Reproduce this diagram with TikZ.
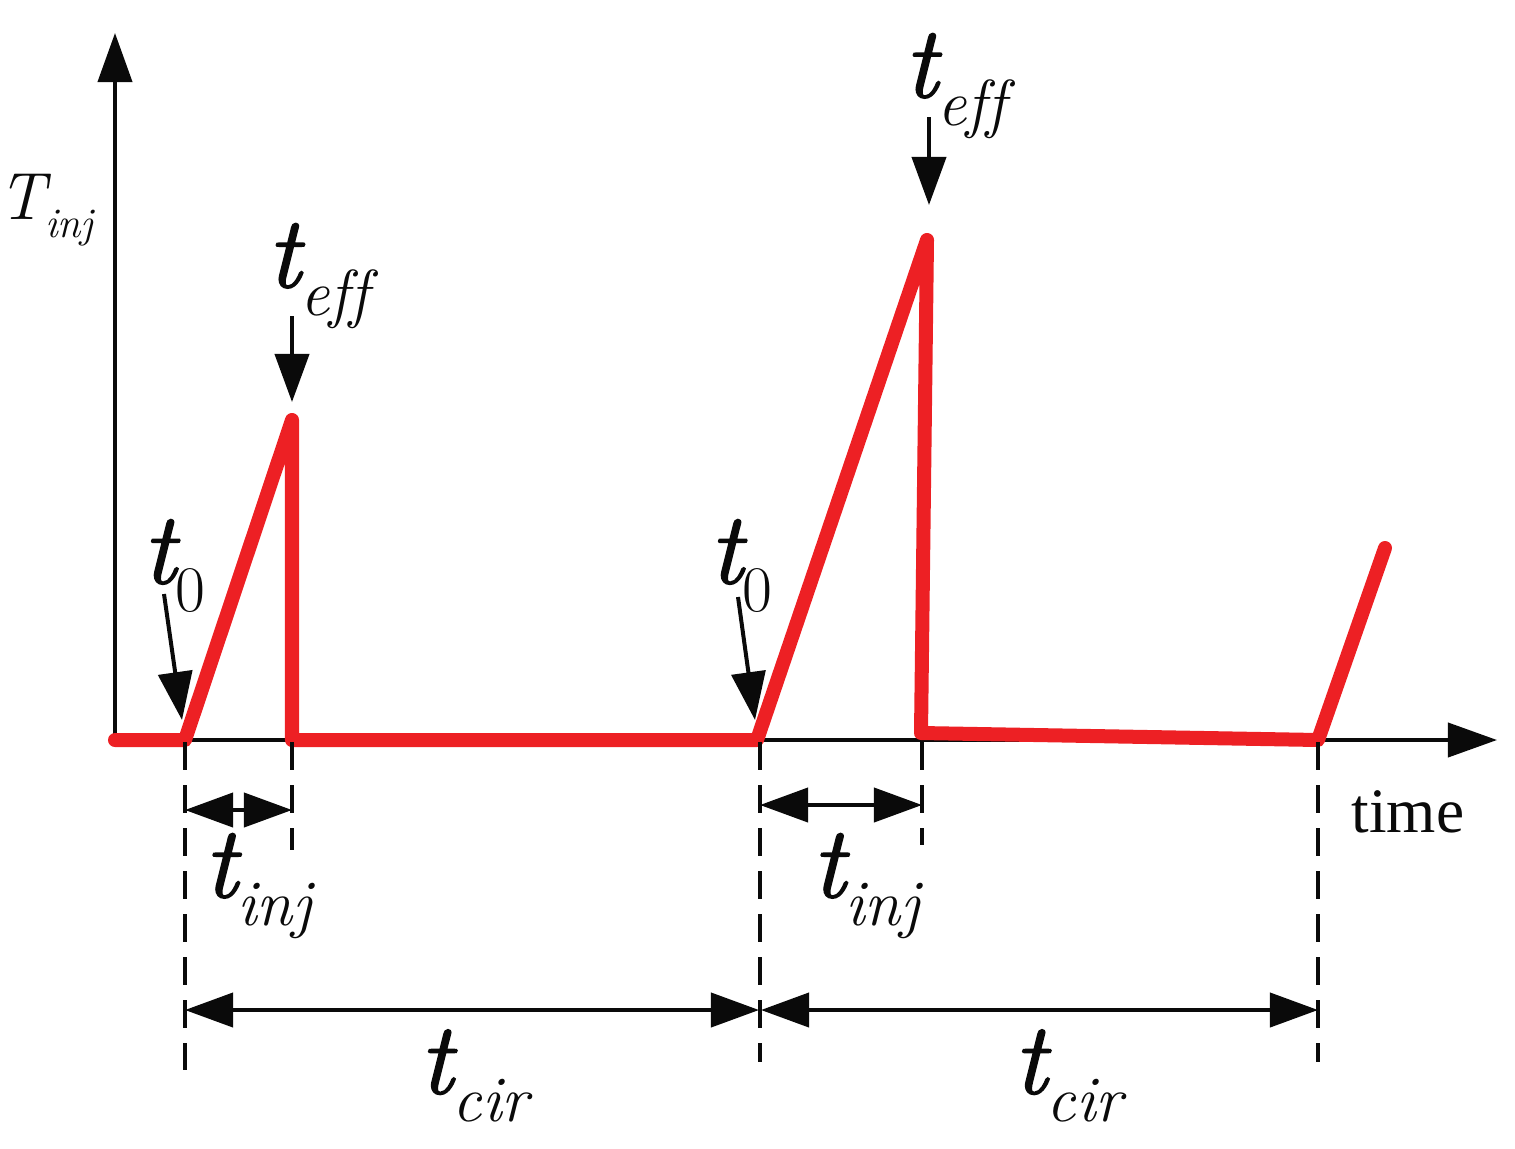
\documentclass[tikz,border=0pt]{standalone}
\usepackage{fontspec}
\setmainfont{Liberation Serif}
\newfontfamily\labfont{Latin Modern Roman}[Ligatures=NoCommon]
\newfontfamily\tfont{Latin Modern Roman}[ItalicFeatures={FakeBold=1.6}]
\usetikzlibrary{arrows.meta, positioning, calc}
\definecolor{cred}{HTML}{ED2024}
\definecolor{cblack}{HTML}{0A0A0A}
\newcommand{\tlab}[1]{{\tfont\fontsize{29}{29}\selectfont\itshape t}\raisebox{-8pt}{\labfont\fontsize{18.5}{18.5}\selectfont#1}}
\tikzset{
  every picture/.style={x=0.01cm, y=-0.01cm},
  axis/.style={draw=cblack, line width=0.04cm, -{Triangle[length=0.49cm, width=0.34cm]}},
  signal/.style={draw=cred, line width=0.14cm, line cap=round, line join=round},
  guide/.style={draw=cblack, line width=0.04cm, dash pattern=on 0.28cm off 0.15cm},
  dim/.style={draw=cblack, line width=0.04cm, {Triangle[length=0.48cm, width=0.34cm]}-{Triangle[length=0.48cm, width=0.34cm]}},
  pointer/.style={draw=cblack, line width=0.04cm, -{Triangle[length=0.48cm, width=0.34cm]}},
  lab/.style={inner sep=0pt, text=cblack},
}

\begin{document}
\begin{tikzpicture}
  \useasboundingbox (0,0) rectangle (1515,1148);
  % axes
  \coordinate (o) at (115,740);
  \coordinate (ytop) at (115,33);
  \coordinate (xend) at (1497,740);
  \draw[axis] (o) -- (ytop);
  \draw[axis] (o) -- (xend);
  \node[lab, font=\fontsize{18}{18}\selectfont] (time) at (1408,812) {time};
  \node[lab] (tinjax) at (46,210) {{\labfont\fontsize{19}{19}\selectfont\itshape T}\raisebox{-5pt}{\labfont\fontsize{12}{12}\selectfont\itshape inj}};
  % signal corners
  \coordinate (s0) at (185,740);
  \coordinate (p1) at (292,420);
  \coordinate (d1) at (292,740);
  \coordinate (s1) at (757,740);
  \coordinate (p2) at (927,240);
  \coordinate (d2) at (921,733);
  \coordinate (s2) at (1318,740);
  \coordinate (e2) at (1385,548);
  \draw[signal] (o) -- (s0) -- (p1) -- (d1) -- (s1) -- (p2) -- (d2) -- (s2) -- (e2);
  % dashed guides
  \draw[guide] (185,742) -- (185,1070);
  \draw[guide] (292,742) -- (292,850);
  \draw[guide] (760,742) -- (760,1062);
  \draw[guide] (922,742) -- (922,845);
  \draw[guide] (1318,742) -- (1318,1062);
  % dimensions
  \coordinate (ia) at (185,810);
  \coordinate (ib) at (292,810);
  \coordinate (ic) at (760,805);
  \coordinate (id) at (922,805);
  \coordinate (ca) at (185,1010);
  \coordinate (cb) at (759,1010);
  \coordinate (cc) at (761,1010);
  \coordinate (cd) at (1318,1010);
  \draw[dim] (ia) -- (ib);
  \draw[dim] (ic) -- (id);
  \draw[dim] (ca) -- (cb);
  \draw[dim] (cc) -- (cd);
  % labels
  \node[lab] (t0a) at (174,566) {\tlab{0}};
  \node[lab] (t0b) at (741,566) {\tlab{0}};
  \node[lab] (tea) at (318,276) {\tlab{\itshape eff}};
  \node[lab] (teb) at (955,86) {\tlab{\itshape eff}};
  \node[lab] (tia) at (258,886) {\tlab{\itshape inj}};
  \node[lab] (tib) at (866,886) {\tlab{\itshape inj}};
  \node[lab] (tca) at (474,1076) {\tlab{\itshape cir}};
  \node[lab] (tcb) at (1068,1076) {\tlab{\itshape cir}};
  % pointers
  \coordinate (q0a) at (164,594);
  \coordinate (q0b) at (738,597);
  \coordinate (qea) at (292,316);
  \coordinate (qeb) at (929,117);
  \draw[pointer] (q0a) -- (182,720);
  \draw[pointer] (q0b) -- (755,720);
  \draw[pointer] (qea) -- (292,402);
  \draw[pointer] (qeb) -- (929,205);
\end{tikzpicture}
\end{document}
